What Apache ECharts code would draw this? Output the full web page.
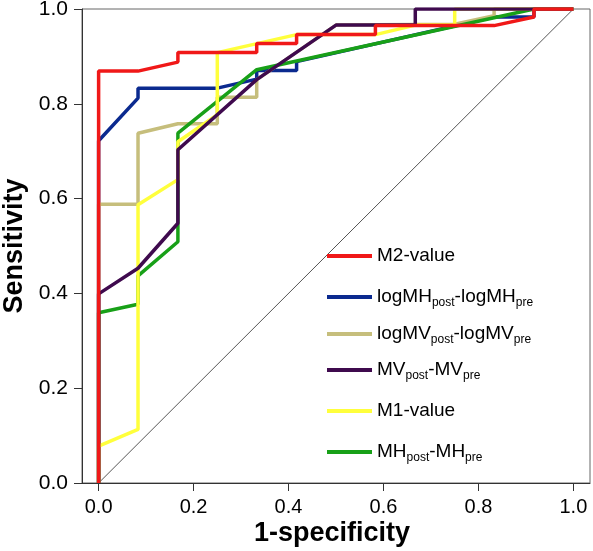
<!DOCTYPE html>
<html>
<head>
<meta charset="utf-8">
<script src="https://cdn.jsdelivr.net/npm/echarts@6/dist/echarts.min.js"></script>
<style>html,body{margin:0;padding:0;background:#fff}#c{width:593px;height:551px}</style>
</head>
<body>
<div id="c"></div>
<script>
// ROC curves: [1-specificity, sensitivity]
const m2Value = [[0,0],[0,0.869],[0.083,0.869],[0.167,0.888],[0.167,0.908],[0.333,0.908],[0.333,0.927],[0.417,0.927],[0.417,0.946],[0.583,0.946],[0.583,0.965],[0.833,0.965],[0.917,0.983],[0.917,1],[1,1]];
const logMH = [[0,0],[0,0.722],[0.083,0.812],[0.083,0.833],[0.25,0.833],[0.333,0.852],[0.333,0.870],[0.417,0.870],[0.417,0.889],[0.833,0.983],[0.917,0.983],[0.917,1],[1,1]];
const logMV = [[0,0],[0,0.588],[0.083,0.588],[0.083,0.738],[0.167,0.758],[0.25,0.758],[0.25,0.814],[0.333,0.814],[0.333,0.851],[0.5,0.966],[0.75,0.968],[0.833,0.986],[0.833,1],[1,1]];
const mvDiff = [[0,0],[0,0.399],[0.083,0.453],[0.167,0.548],[0.167,0.703],[0.333,0.851],[0.5,0.966],[0.667,0.966],[0.667,1],[1,1]];
const m1Value = [[0,0],[0,0.078],[0.083,0.113],[0.083,0.587],[0.167,0.640],[0.167,0.720],[0.25,0.777],[0.25,0.908],[0.417,0.946],[0.583,0.946],[0.667,0.966],[0.75,0.966],[0.75,1],[1,1]];
const mhDiff = [[0,0],[0,0.359],[0.083,0.377],[0.083,0.437],[0.167,0.509],[0.167,0.738],[0.333,0.872],[0.917,1],[1,1]];
const refLine = [[0,0],[1,1]];
const xTicks = [0,0.2,0.4,0.6,0.8,1.0];

const FONT = 'Liberation Sans, Arial, sans-serif';
const legendItems = [
  {name:'M2-value', label:'{m|M2-value}', color:'#f01818', top:246},
  {name:'logMH', label:'{m|logMH}{s|post}{m|-logMH}{s|pre}', color:'#0b2a8f', top:285},
  {name:'logMV', label:'{m|logMV}{s|post}{m|-logMV}{s|pre}', color:'#c6be7c', top:322},
  {name:'MV', label:'{m|MV}{s|post}{m|-MV}{s|pre}', color:'#3f0a4e', top:358},
  {name:'M1-value', label:'{m|M1-value}', color:'#ffff3c', top:401},
  {name:'MH', label:'{m|MH}{s|post}{m|-MH}{s|pre}', color:'#18a018', top:440}
];
const rich = {
  m:{fontSize:19, lineHeight:20, verticalAlign:'top', fontFamily:FONT, color:'#000'},
  s:{fontSize:12, lineHeight:12, padding:[12,0,0,0], fontFamily:FONT, color:'#000'}
};
const seriesData = {'M2-value':m2Value, 'logMH':logMH, 'logMV':logMV, 'MV':mvDiff, 'M1-value':m1Value, 'MH':mhDiff};
const zOrder = {'logMH':3, 'logMV':4, 'MH':5, 'M1-value':6, 'MV':7, 'M2-value':8};

const series = [{
  type:'line', name:'ref', data:refLine, showSymbol:false, silent:true, z:2,
  lineStyle:{color:'#555', width:1}, color:'#555'
}];
legendItems.forEach(it => {
  series.push({
    type:'line', name:it.name, data:seriesData[it.name], showSymbol:false, z:zOrder[it.name],
    color:it.color, lineStyle:{color:it.color, width:3.5}
  });
});

const chart = echarts.init(document.getElementById('c'));
chart.setOption({
  animation:false,
  backgroundColor:'#fff',
  grid:{left:82, right:3, top:9, bottom:68, show:true, borderColor:'#666', borderWidth:1, containLabel:false, outerBoundsMode:'none'},
  legend: legendItems.map(it => ({
    data:[it.name], left:327, top:it.top, padding:0, icon:'rect', itemWidth:45, itemHeight:4,
    formatter:()=>it.label, textStyle:{rich:rich, fontFamily:FONT}, selectedMode:false
  })),
  xAxis:{
    type:'value', min:-0.035, max:1.035,
    axisLine:{show:true, onZero:false, lineStyle:{color:'#333', width:1}},
    axisTick:{show:true, customValues:xTicks, length:8, lineStyle:{color:'#333'}},
    axisLabel:{customValues:xTicks, formatter:v=>Number(v).toFixed(1), fontSize:20, color:'#000', margin:14, fontFamily:FONT},
    splitLine:{show:false},
    name:'1-specificity', nameLocation:'middle', nameGap:37, nameMoveOverlap:false,
    nameTextStyle:{fontSize:27, fontWeight:'bold', color:'#000', fontFamily:FONT, padding:[0,8,0,0]}
  },
  yAxis:{
    type:'value', min:0, max:1, interval:0.2,
    axisLine:{show:true, onZero:false, lineStyle:{color:'#333', width:1}},
    axisTick:{show:true, length:8, lineStyle:{color:'#333'}},
    axisLabel:{formatter:v=>Number(v).toFixed(1), fontSize:21, color:'#000', margin:14, fontFamily:FONT},
    splitLine:{show:false},
    name:'Sensitivity', nameLocation:'middle', nameGap:54, nameMoveOverlap:false,
    nameTextStyle:{fontSize:27, fontWeight:'bold', color:'#000', fontFamily:FONT}
  },
  series:series
});
</script>
</body>
</html>
